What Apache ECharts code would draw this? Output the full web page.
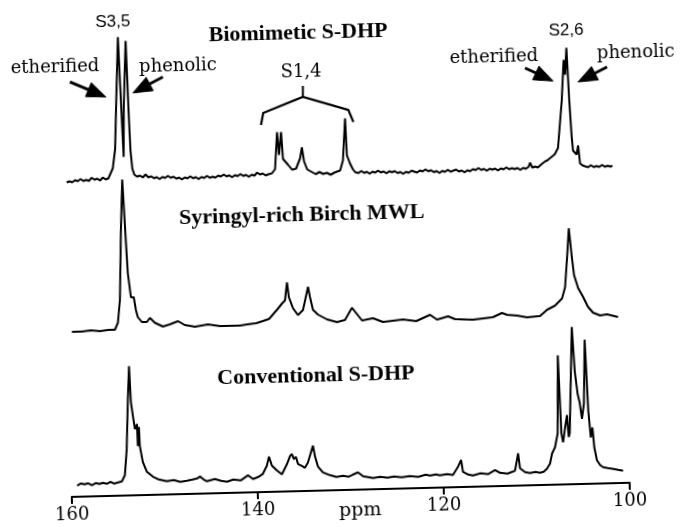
<!DOCTYPE html>
<html>
<head>
<meta charset="utf-8">
<script src="https://cdn.jsdelivr.net/npm/echarts@6/dist/echarts.min.js"></script>
<style>
  html, body { margin: 0; padding: 0; background: #fff; overflow: hidden; }
  #chart { width: 683px; height: 527px; transform: rotate(-1.45deg); transform-origin: 50% 50%; }
</style>
</head>
<body>
<div id="chart"></div>
<script>
// 13C NMR, aromatic region: [ppm, relative intensity]
const biomimetic = [
  [159.7,0],[159.4,1],[159.1,0],[158.8,2],[158.5,1],[158.2,3],[157.9,1],[157.6,2],[157.3,1],[157.0,4],
  [156.7,2],[156.4,3],[156.1,1],[155.8,4],[155.5,2],[155.2,3],[155.0,5],[154.7,13],[154.4,32],[154.15,80],
  [153.8,144],[153.62,70],[153.5,24],[153.35,75],[152.98,140],[152.85,70],[152.75,30],[152.6,12],[152.4,6],[152.1,4],
  [151.8,5],[151.5,3],[151.2,6],[150.9,3],[150.6,4],[150.3,2],[150.0,3],[149.7,1],[149.4,3],[149.1,2],
  [148.8,4],[148.5,2],[148.2,3],[147.9,1],[147.6,2],[147.3,0],[147.0,2],[146.7,1],[146.4,3],[146.1,1],
  [145.8,2],[145.5,0],[145.2,2],[144.9,1],[144.6,3],[144.3,1],[144.0,2],[143.7,1],[143.4,3],[143.1,2],
  [142.8,4],[142.5,2],[142.2,3],[141.9,1],[141.6,3],[141.3,2],[141.0,4],[140.7,2],[140.4,3],[140.1,1],
  [139.8,3],[139.5,2],[139.2,5],[138.9,3],[138.6,4],[138.3,2],[138.0,3],[137.6,4],[137.26,8],[136.95,45],
  [136.8,22],[136.52,45],[136.38,18],[136.17,16],[135.85,12],[135.43,7],[135.0,8],[134.55,18],[134.32,29],[134.12,15],
  [133.81,7],[133.28,4],[132.9,2],[132.5,4],[132.1,2],[131.7,3],[131.3,1],[130.9,3],[130.6,4],[130.27,5],
  [129.94,15],[129.6,57],[129.5,20],[129.2,12],[128.9,6],[128.66,3],[128.3,2],[128.0,4],[127.7,2],[127.4,3],
  [127.1,1],[126.8,3],[126.5,2],[126.2,4],[125.9,2],[125.6,3],[125.3,1],[125.0,3],[124.7,2],[124.4,3],
  [124.1,1],[123.8,2],[123.5,0],[123.2,2],[122.9,1],[122.6,3],[122.3,2],[122.0,1],[121.7,3],[121.4,2],
  [121.1,4],[120.8,2],[120.5,3],[120.2,1],[119.9,2],[119.6,0],[119.3,2],[119.0,1],[118.7,3],[118.4,1],
  [118.1,2],[117.8,3],[117.5,1],[117.2,2],[116.9,0],[116.6,2],[116.3,1],[116.0,3],[115.7,2],[115.4,4],
  [115.1,2],[114.8,3],[114.5,1],[114.2,3],[113.9,2],[113.6,3],[113.3,1],[113.0,3],[112.7,2],[112.4,4],
  [112.1,2],[111.8,3],[111.5,2],[111.2,3],[110.9,1],[110.6,3],[110.3,2],[110.0,4],[109.84,8],[109.6,3],
  [109.3,4],[109.0,3],[108.76,5],[108.5,7],[108.2,9],[107.95,10],[107.68,12],[107.4,14],[107.14,16],[106.79,22],
  [106.26,69],[105.95,110],[105.83,95],[105.62,122],[105.45,69],[105.29,33],[105.18,19],[104.8,15],[104.62,24],[104.46,6],
  [104.2,4],[103.93,3],[103.6,2],[103.3,4],[103.0,2],[102.7,3],[102.4,2],[102.1,4],[101.8,2],[101.5,3],
  [101.2,2],[101.0,3]
];

const birchMWL = [
  [159.54,0],[158.5,0],[157.5,1],[156.53,0],[155.6,1],[154.91,1],[154.57,8],[154.29,31],[154.0,100],[153.72,151],
  [153.5,90],[153.37,57],[153.1,33],[152.8,33],[152.6,20],[152.41,13],[151.99,8],[151.45,8],[151.12,12],[150.6,7],
  [149.74,3],[148.99,5],[148.1,8],[147.4,4],[146.3,2],[144.9,4],[143.6,2],[141.46,2],[140.7,3],[139.7,4],
  [138.97,6],[138.3,8],[137.33,18],[136.88,23],[136.55,26],[136.29,44],[136.12,29],[135.71,18],[135.19,11],[134.64,16],
  [134.04,39],[133.86,29],[133.57,16],[133.04,11],[132.09,6],[131.02,3],[130.15,5],[129.37,17],[129.05,13],[128.32,4],
  [127.14,6],[126.08,2],[125.0,3],[123.92,4],[122.5,2],[121.0,8],[120.26,3],[119.06,6],[118.32,3],[116.39,2],
  [114.24,4],[113.26,8],[112.72,6],[111.65,5],[110.58,3],[109.17,4],[108.41,10],[107.54,14],[106.76,21],[106.41,32],
  [106.11,62],[105.85,91],[105.6,62],[105.41,44],[105.01,31],[104.5,22],[104.0,12],[103.47,6],[102.72,3],[101.97,4],
  [100.8,1]
];

const conventional = [
  [159.4,0],[159.0,2],[158.6,1],[158.2,2],[157.8,0],[157.4,2],[157.0,1],[156.6,2],[156.2,1],[155.8,3],
  [155.4,1],[155.0,2],[154.57,3],[154.24,9],[153.97,35],[153.71,85],[153.5,118],[153.39,82],[153.21,68],[153.03,55],
  [152.8,60],[152.76,38],[152.6,57],[152.55,38],[152.27,22],[151.86,12],[151.23,7],[150.6,4],[149.74,2],[149.0,3],
  [148.3,1],[147.58,2],[147.0,3],[146.5,4],[146.17,6],[145.8,3],[145.43,1],[144.57,3],[143.9,1],[143.28,0],
  [142.6,2],[141.8,1],[141.01,6],[140.47,2],[139.9,4],[139.4,7],[138.95,15],[138.7,24],[138.41,15],[137.88,10],
  [137.35,6],[136.79,16],[136.44,24],[136.22,26],[136.03,21],[135.8,23],[135.6,16],[135.18,14],[134.86,12],[134.53,17],
  [133.94,34],[133.75,23],[133.46,13],[132.94,7],[132.19,4],[131.5,2],[130.8,3],[130.2,2],[129.72,4],[129.17,6],
  [128.63,2],[128.1,1],[127.57,0],[126.8,1],[126.0,0],[125.3,1],[124.5,0],[123.6,1],[122.7,0],[121.9,2],
  [121.44,1],[120.8,2],[120.37,1],[119.6,2],[118.97,1],[118.41,9],[118.06,16],[117.88,4],[117.3,1],[116.82,0],
  [116.0,2],[115.2,1],[114.43,5],[113.9,2],[113.1,1],[112.5,3],[112.28,4],[111.91,21],[111.74,6],[111.2,2],
  [110.68,1],[110.1,2],[109.6,1],[109.2,2],[108.84,5],[108.5,10],[108.26,20],[107.93,26],[107.6,40],[107.38,118],
  [107.2,40],[107.04,31],[106.8,45],[106.55,58],[106.42,36],[106.3,40],[105.8,146],[105.6,102],[105.35,79],[105.15,70],
  [104.95,54],[104.7,69],[104.45,133],[104.25,62],[104.05,35],[103.85,45],[103.7,25],[103.45,12],[103.1,7],[102.8,5],
  [102.3,4],[101.7,3],[101.2,2],[100.67,1]
];

const traceTitles = ['Biomimetic S-DHP', 'Syringyl-rich Birch MWL', 'Conventional S-DHP'];
const axisTicks = [100, 120, 140, 160];
const axisTitle = 'ppm';

const chart = echarts.init(document.getElementById('chart'), null, { renderer: 'canvas' });

// vertical stacking of the three traces (axis units = pixels above the ppm axis)
const traceOffsets = [314.5, 165, 11.2];
const traces = [biomimetic, birchMWL, conventional];

const serif = '"DejaVu Serif", serif';
const boldSerif = 'bold 22px "Liberation Serif", "Times New Roman", serif';
const sans = '"Liberation Sans", Arial, sans-serif';

function label(text, x, y, font) {
  return { type: 'text', x: x, y: y, z: 10,
    style: { text: text, font: font, fill: '#000', textAlign: 'center', textVerticalAlign: 'middle' } };
}

function arrow(tail, tip) {
  const dx = tip[0] - tail[0], dy = tip[1] - tail[1];
  const len = Math.hypot(dx, dy), ux = dx / len, uy = dy / len;
  const headLen = 19, halfW = 7.5;
  const bx = tip[0] - ux * headLen, by = tip[1] - uy * headLen;
  return [
    { type: 'polyline', z: 10, shape: { points: [tail, [bx + ux * 2, by + uy * 2]] },
      style: { stroke: '#000', lineWidth: 2.8, fill: null } },
    { type: 'polygon', z: 10,
      shape: { points: [tip, [bx - uy * halfW, by + ux * halfW], [bx + uy * halfW, by - ux * halfW]] },
      style: { fill: '#000', stroke: '#000', lineWidth: 1 } }
  ];
}

const graphics = [
  label('S3,5', 119, 16, '17px ' + sans),
  label('etherified', 60, 60, '18px ' + serif),
  label('phenolic', 183, 62, '18px ' + serif),
  label(traceTitles[0], 304, 32, boldSerif),
  label('S1,4', 306, 71, '18px ' + serif),
  label('S2,6', 572, 36, '17px ' + sans),
  label('etherified', 499, 61, '18px ' + serif),
  label('phenolic', 641, 60, '18px ' + serif),
  label(traceTitles[1], 303, 214, boldSerif),
  label(traceTitles[2], 313, 375, boldSerif),
  label(axisTitle, 354, 511, '19px ' + serif),
  // bracket over the S1,4 signals
  { type: 'polyline', z: 10,
    shape: { points: [[264.5, 123], [267.1, 111], [307.1, 96], [352.2, 110.2], [357, 122.3]] },
    style: { stroke: '#000', lineWidth: 2.2, fill: null } },
  { type: 'polyline', z: 10, shape: { points: [[307.1, 96], [307.4, 85]] },
    style: { stroke: '#000', lineWidth: 2, fill: null } }
]
  .concat(arrow([74.6, 75.1], [110.2, 91.1]))
  .concat(arrow([167.7, 72.5], [137.3, 87.7]))
  .concat(arrow([529.9, 72.7], [557.6, 86.4]))
  .concat(arrow([612, 73.7], [582.6, 88]));

chart.setOption({
  animation: false,
  backgroundColor: '#fff',
  grid: { left: 66, right: 59, top: 0, bottom: 37 },
  xAxis: {
    type: 'value',
    inverse: true,
    min: axisTicks[0],
    max: axisTicks[axisTicks.length - 1],
    interval: 20,
    axisLine: { onZero: false, lineStyle: { color: '#000', width: 2.2 } },
    axisTick: { show: true, length: 7, lineStyle: { color: '#000', width: 2 } },
    axisLabel: { color: '#000', fontFamily: '"DejaVu Serif", serif', fontSize: 18, margin: 9 },
    splitLine: { show: false }
  },
  yAxis: { type: 'value', min: 0, max: 490, show: false },
  series: traces.map((d, i) => ({
    type: 'line',
    name: traceTitles[i],
    data: d.map(p => [p[0], p[1] + traceOffsets[i]]),
    showSymbol: false,
    symbol: 'none',
    lineStyle: { color: '#000', width: 2 },
    z: 5
  })),
  graphic: graphics
});
</script>
</body>
</html>
